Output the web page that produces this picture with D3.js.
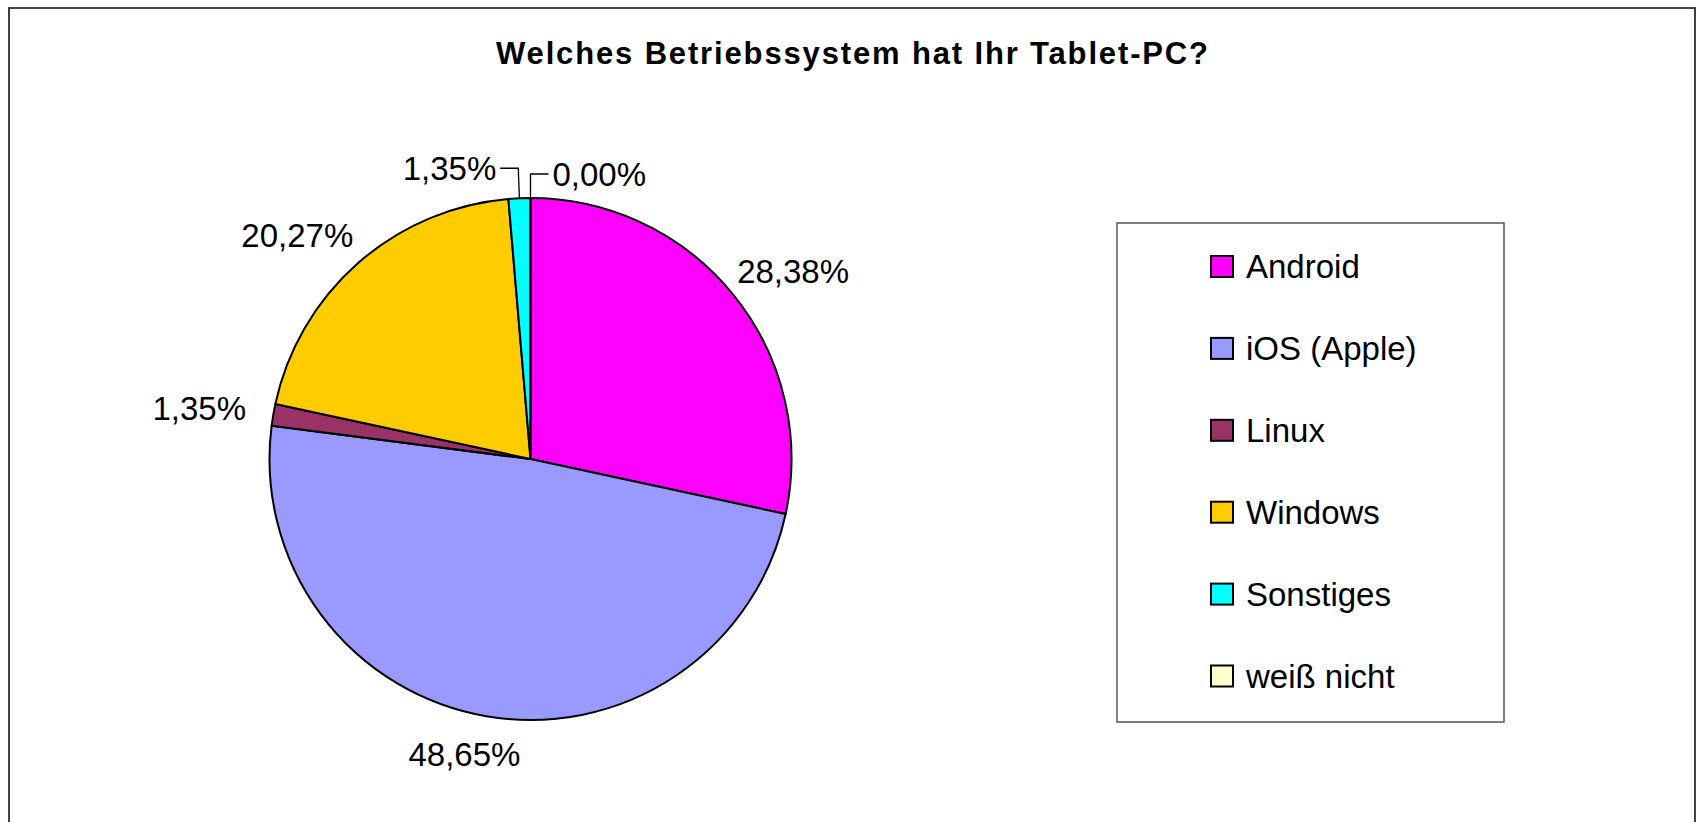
<!DOCTYPE html>
<html>
<head>
<meta charset="utf-8">
<script src="https://cdn.jsdelivr.net/npm/d3@7"></script>
<style>
  html, body { margin: 0; padding: 0; background: #fff; }
  svg { display: block; font-family: "Liberation Sans", Arial, sans-serif; }
</style>
</head>
<body>
<svg id="chart" width="1696" height="822"></svg>
<script>
const categories = ["Android", "iOS (Apple)", "Linux", "Windows", "Sonstiges", "weiß nicht"]
const values = [28.38, 48.65, 1.35, 20.27, 1.35, 0.00]
const colors = ["#ff00ff", "#9999ff", "#993366", "#ffcc00", "#00ffff", "#ffffcc"]
const title = "Welches Betriebssystem hat Ihr Tablet-PC?"

const svg = d3.select("#chart")

// outer frame
svg.append("rect")
  .attr("x", 9).attr("y", 8)
  .attr("width", 1686).attr("height", 830)
  .attr("fill", "#fff").attr("stroke", "#404040").attr("stroke-width", 2)

svg.append("text")
  .attr("x", 852).attr("y", 64)
  .attr("text-anchor", "middle")
  .attr("font-size", 31).attr("font-weight", "bold")
  .attr("textLength", 712).attr("lengthAdjust", "spacing")
  .text(title)

const cx = 530.5, cy = 459, r = 261
const data = categories.map((c, i) => ({ name: c, value: values[i], color: colors[i] }))

const pie = d3.pie().sort(null).value(d => d.value)
const arc = d3.arc().innerRadius(0).outerRadius(r)
const arcs = pie(data)

const g = svg.append("g").attr("transform", "translate(" + cx + "," + cy + ")")

g.selectAll("path.slice")
  .data(arcs)
  .enter().append("path")
  .attr("class", "slice")
  .attr("d", arc)
  .attr("fill", d => d.data.color)
  .attr("stroke", "#000")
  .attr("stroke-width", 2)
  .attr("stroke-linejoin", "round")

const fmt = v => v.toFixed(2).replace(".", ",") + "%"
const fontSize = 33

arcs.forEach(function (d) {
  const mid = (d.startAngle + d.endAngle) / 2
  const ux = Math.sin(mid), uy = -Math.cos(mid)
  const label = fmt(d.data.value)

  if (d.data.value < 2 && Math.abs(ux) < 0.2) {
    // small slices at the top get a leader line
    const dir = ux < -1e-6 ? -1 : 1
    const edge = [ux * r, uy * r]
    const elbow = [ux * (r + 28), uy * (r + 28) + (dir < 0 ? -2 : 4)]
    const end = [elbow[0] + dir * 18, elbow[1]]
    g.append("path")
      .attr("d", d3.line()([edge, elbow, end]))
      .attr("fill", "none").attr("stroke", "#000").attr("stroke-width", 1.3)
    g.append("text")
      .attr("x", end[0] + dir * 4).attr("y", end[1] + 12)
      .attr("text-anchor", dir < 0 ? "end" : "start")
      .attr("font-size", fontSize)
      .text(label)
    return
  }

  const t = g.append("text")
    .attr("font-size", fontSize)
    .attr("text-anchor", "middle")
    .text(label)
  const w = t.node().getComputedTextLength()
  const h = 34
  const x = ux * (288 + w / 2) - 8 * Math.abs(uy)
  const y = uy * (282 + h / 2)
  t.attr("x", x).attr("y", y + 12)
})

// legend
svg.append("rect")
  .attr("x", 1117).attr("y", 223)
  .attr("width", 387).attr("height", 499)
  .attr("fill", "#fff").attr("stroke", "#555").attr("stroke-width", 1.5)

const ly = d3.scalePoint().domain(categories).range([266.5, 676])

const legend = svg.selectAll(".legend")
  .data(data)
  .enter().append("g")
  .attr("class", "legend")
  .attr("transform", d => "translate(1211," + ly(d.name) + ")")

legend.append("rect")
  .attr("x", 0).attr("y", -10.5)
  .attr("width", 22).attr("height", 21)
  .attr("fill", d => d.color)
  .attr("stroke", "#000").attr("stroke-width", 2)

legend.append("text")
  .attr("x", 35).attr("y", 11.5)
  .attr("font-size", fontSize)
  .text(d => d.name)
</script>
</body>
</html>
